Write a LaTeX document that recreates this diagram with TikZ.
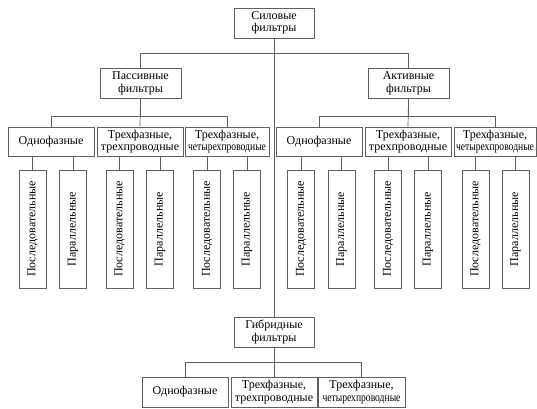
\documentclass[tikz,border=0pt]{standalone}
\usepackage{fontspec}
\setmainfont{Liberation Serif}
\begin{document}
\begin{tikzpicture}[x=1pt,y=-1pt,
  box/.style={draw=gray!75!black, line width=0.7pt, fill=white, inner sep=1pt, align=center,
    font=\fontsize{12}{12.5}\selectfont, text=black},
  hbox/.style={box, minimum height=30pt},
  vbox/.style={box, rotate=90, minimum width=118pt, minimum height=27pt},
  conn/.style={draw=gray!75!black, line width=0.7pt}]
\useasboundingbox (0,0) rectangle (537,408);
\fill[white] (0,0) rectangle (537,408);
% top level
\node[hbox, minimum width=80pt] (top) at (274,23) {Силовые\\фильтры};
\node[hbox, minimum width=81pt] (pass) at (140.5,83.5) {Пассивные\\фильтры};
\node[hbox, minimum width=81pt] (act) at (408.5,83.5) {Активные\\фильтры};
\node[hbox, minimum width=80pt] (hyb) at (274,332) {Гибридные\\фильтры};
% level 3 passive
\node[hbox, minimum width=86pt, minimum height=29pt] (a1) at (51,141.5) {Однофазные};
\node[hbox, minimum width=86pt, minimum height=29pt] (a2) at (140,141.5) {Трехфазные,\\трехпроводные};
\node[hbox, minimum width=84pt, minimum height=29pt] (a3) at (227,141.5) {Трехфазные,\\\scalebox{0.8}[1]{четырехпроводные}};
% level 3 active
\node[hbox, minimum width=86pt, minimum height=29pt] (b1) at (319,141.5) {Однофазные};
\node[hbox, minimum width=86pt, minimum height=29pt] (b2) at (408,141.5) {Трехфазные,\\трехпроводные};
\node[hbox, minimum width=82pt, minimum height=29pt] (b3) at (495,141.5) {Трехфазные,\\\scalebox{0.8}[1]{четырехпроводные}};
% vertical boxes
\node[vbox] (a1s) at (32.5,229) {Последовательные};
\node[vbox] (a1p) at (73,229) {Параллельные};
\node[vbox] (a2s) at (119.5,229) {Последовательные};
\node[vbox] (a2p) at (160,229) {Параллельные};
\node[vbox] (a3s) at (207,229) {Последовательные};
\node[vbox] (a3p) at (247,229) {Параллельные};
\node[vbox] (b1s) at (301,229) {Последовательные};
\node[vbox] (b1p) at (341.5,229) {Параллельные};
\node[vbox] (b2s) at (388,229) {Последовательные};
\node[vbox] (b2p) at (428,229) {Параллельные};
\node[vbox] (b3s) at (475.5,229) {Последовательные};
\node[vbox] (b3p) at (515.5,229) {Параллельные};
% hybrid children
\node[hbox, minimum width=86pt] (c1) at (185,392) {Однофазные};
\node[hbox, minimum width=86pt] (c2) at (274,392) {Трехфазные,\\трехпроводные};
\node[hbox, minimum width=87pt] (c3) at (361.5,392) {Трехфазные,\\\scalebox{0.8}[1]{четырехпроводные}};
% connectors
\draw[conn] (top.south) -- (hyb.north);
\draw[conn] (pass.north) -- ++(0,-14.5) -| (act.north);
\draw[conn] (pass.south) -- ++(0,17) -| (a1.north);
\draw[conn] (pass.south) -- (a2.north);
\draw[conn] (pass.south) -- ++(0,17) -| (a3.north);
\draw[conn] (act.south) -- ++(0,17) -| (b1.north);
\draw[conn] (act.south) -- (b2.north);
\draw[conn] (act.south) -- ++(0,17) -| (b3.north);
\foreach \p/\s/\q in {a1/a1s/a1p, a2/a2s/a2p, a3/a3s/a3p, b1/b1s/b1p, b2/b2s/b2p, b3/b3s/b3p}{
  \draw[conn] (\s.east) -- (\s.east |- \p.south);
  \draw[conn] (\q.east) -- (\q.east |- \p.south);
}
\draw[conn] (hyb.south) -- ++(0,15) -| (c1.north);
\draw[conn] (hyb.south) -- (c2.north);
\draw[conn] (hyb.south) -- ++(0,15) -| (c3.north);
\end{tikzpicture}
\end{document}
